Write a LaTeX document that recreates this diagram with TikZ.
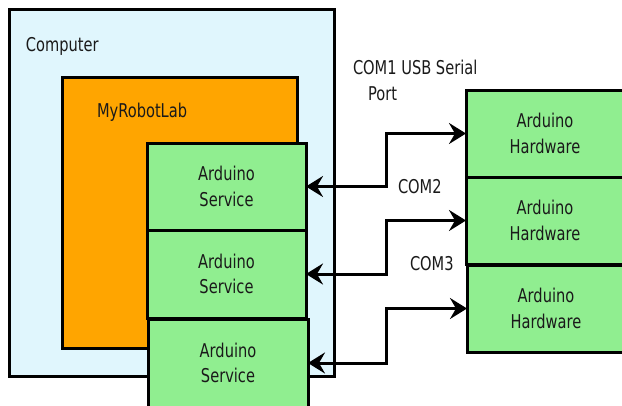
\documentclass[tikz,border=0pt]{standalone}
\usepackage{fontspec}
\setmainfont{DejaVu Sans}[FakeStretch=0.77]
\usetikzlibrary{arrows.meta}
\definecolor{compblue}{HTML}{E0F6FD}
\definecolor{mrlorange}{HTML}{FFA500}
\definecolor{ardgreen}{HTML}{90EE90}
\definecolor{txt}{HTML}{1A1A1A}
\begin{document}
\begin{tikzpicture}[x=1pt,y=-1pt,
  every node/.style={text=txt,font=\fontsize{19}{25.5}\selectfont},
  boxstyle/.style={draw=black,line width=3pt,inner sep=0pt,outer sep=0pt,align=center},
  lbl/.style={inner sep=0pt,outer sep=0pt},
  conn/.style={line width=3pt,{Stealth[length=17pt,width=21pt,inset=6pt]}-{Stealth[length=17pt,width=21pt,inset=6pt]}}]
\useasboundingbox (0,0) rectangle (622,405);
\clip (0,0) rectangle (622,405);
% computer and MyRobotLab
\node[boxstyle,fill=compblue,minimum width=325pt,minimum height=367pt] (comp) at (171.5,192.5) {};
\node[lbl,anchor=base west] (complbl) at (26,51) {Computer};
\node[boxstyle,fill=mrlorange,minimum width=235pt,minimum height=271pt] (mrl) at (179.5,212.5) {};
\node[lbl,anchor=base west] (mrllbl) at (97,117) {MyRobotLab};
% services
\node[boxstyle,fill=ardgreen,minimum width=159pt,minimum height=87pt,text depth=-4pt] (s1) at (226.5,186.5) {Arduino\\Service};
\node[boxstyle,fill=ardgreen,minimum width=159pt,minimum height=88pt,text depth=-4pt] (s2) at (226.5,274) {Arduino\\Service};
\node[boxstyle,fill=ardgreen,minimum width=160pt,minimum height=88pt,text depth=-4pt] (s3) at (228,363) {Arduino\\Service};
% hardware
\node[boxstyle,fill=ardgreen,minimum width=158pt,minimum height=87pt,text depth=-2pt] (h1) at (545,133.5) {Arduino\\Hardware};
\node[boxstyle,fill=ardgreen,minimum width=158pt,minimum height=87pt,text depth=-2pt] (h2) at (545,220.5) {Arduino\\Hardware};
\node[boxstyle,fill=ardgreen,minimum width=158pt,minimum height=87pt,text depth=-2pt] (h3) at (546,308.5) {Arduino\\Hardware};
% connectors
\coordinate (mid) at (386.5,0);
\draw[conn] (s1.east) -- (s1.east -| mid) |- (h1.west);
\draw[conn] (s2.east) -- (s2.east -| mid) |- (h2.west);
\draw[conn] (s3.east) -- (s3.east -| mid) |- (h3.west);
% port labels
\node[lbl,anchor=base west,align=left] (com1) at (353,100) {COM1 USB Serial\\\hspace{15pt}Port};
\node[lbl,anchor=base west] (com2) at (398,193) {COM2};
\node[lbl,anchor=base west] (com3) at (410,270) {COM3};
\end{tikzpicture}
\end{document}
